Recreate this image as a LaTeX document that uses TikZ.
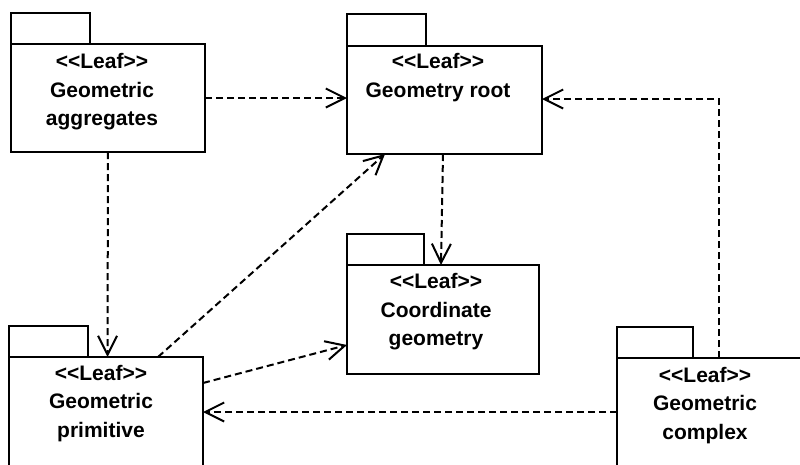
\documentclass[tikz,border=0pt]{standalone}
\usepackage{fontspec}
\newfontfamily\pkgfont{Liberation Sans}
\usetikzlibrary{arrows.meta,calc}
\tikzset{
  pkgline/.style={draw=black,line width=2.6pt,fill=white},
  pkgtext/.style={anchor=north,inner sep=0pt,align=center,font=\pkgfont\bfseries\fontsize{21}{28.5}\selectfont},
  dep/.style={draw=black,line width=2pt,dash pattern=on 7pt off 4pt,
    -{Straight Barb[length=19pt,width=19pt,line width=2pt]}},
}
\begin{document}
\begin{tikzpicture}[x=1pt,y=-1pt]
\clip (0,0) rectangle (800,464);
\fill[white] (0,0) rectangle (800,464);
% Geometric aggregates
\draw[pkgline] (11,13) rectangle (90,44);
\draw[pkgline] (11,44) rectangle (205,152);
\coordinate (agg-nw) at (11,44);
\coordinate (agg-se) at (205,152);
\node[pkgtext] (aggt) at (102,53.5) {<<Leaf>>\\Geometric\\aggregates};
% Geometry root
\draw[pkgline] (347,14) rectangle (426,46);
\draw[pkgline] (347,46) rectangle (542,154);
\coordinate (root-nw) at (347,46);
\coordinate (root-se) at (542,154);
\node[pkgtext] (roott) at (438,53.5) {<<Leaf>>\\Geometry root};
% Coordinate geometry
\draw[pkgline] (347,234) rectangle (424,265);
\draw[pkgline] (347,265) rectangle (539,374);
\coordinate (coord-nw) at (347,265);
\coordinate (coord-se) at (539,374);
\node[pkgtext] (coordt) at (436,273.5) {<<Leaf>>\\Coordinate\\geometry};
% Geometric primitive
\draw[pkgline] (9,326) rectangle (88,357);
\draw[pkgline] (9,357) rectangle (203,480);
\coordinate (prim-nw) at (9,357);
\coordinate (prim-se) at (203,480);
\node[pkgtext] (primt) at (101,365) {<<Leaf>>\\Geometric\\primitive};
% Geometric complex
\draw[pkgline] (617,327) rectangle (693,358);
\draw[pkgline] (617,358) rectangle (811,480);
\coordinate (cplx-nw) at (617,358);
\coordinate (cplx-se) at (811,480);
\node[pkgtext] (cplxt) at (705,367) {<<Leaf>>\\Geometric\\complex};
% dependencies
\draw[dep] (agg-se |- 0,98) -- (root-nw |- 0,98);
\draw[dep] (agg-se -| 108,0) -- (prim-nw -| 107.5,0);
\draw[dep] (prim-nw -| 158,0) -- (root-se -| 385,0);
\draw[dep] (prim-se |- 0,383) -- (coord-nw |- 0,345);
\draw[dep] (root-se -| 443,0) -- (coord-nw -| 441,0);
\coordinate (bend) at (719,99);
\draw[dep] (cplx-nw -| bend) -- (bend) -- (root-se |- bend);
\draw[dep] (cplx-nw |- 0,412) -- (prim-se |- 0,412);
\end{tikzpicture}
\end{document}
